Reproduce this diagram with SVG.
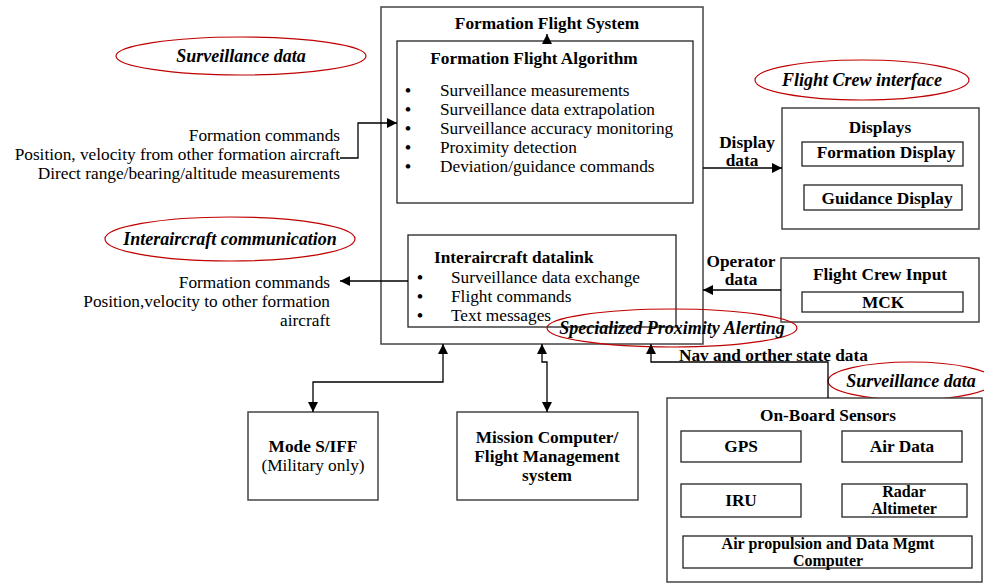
<svg xmlns="http://www.w3.org/2000/svg" width="984" height="583" viewBox="0 0 984 583">
<style>
text{font-family:"Liberation Serif","DejaVu Serif",serif;fill:#000}
.t{font-size:17.3px}
.b{font-size:17.3px;font-weight:bold}
.s{font-size:16px;font-weight:bold}
.e{font-size:18px;font-weight:bold;font-style:italic}
.u{font-size:17px;font-weight:bold}
.box{fill:#fff;stroke:#444;stroke-width:1.5}
.in{fill:#fff;stroke:#222;stroke-width:1.3}
.ell{fill:none;stroke:#c00000;stroke-width:1.2}
.c{fill:none;stroke:#000;stroke-width:1.3}
.m{text-anchor:middle}
.r{text-anchor:end}
</style>
<defs>
<marker id="ah" viewBox="0 0 10 10" refX="10" refY="5" markerWidth="10" markerHeight="10" markerUnits="userSpaceOnUse" orient="auto">
<path d="M0,0 L10,5 L0,10 z" fill="#000"/>
</marker>
<marker id="as" viewBox="0 0 10 10" refX="10" refY="5" markerWidth="10" markerHeight="10" markerUnits="userSpaceOnUse" orient="auto-start-reverse">
<path d="M0,0 L10,5 L0,10 z" fill="#000"/>
</marker>
</defs>

<g id="ffs">
<rect class="box" x="381" y="7" width="322" height="337"/>
<text class="b m" x="547" y="29">Formation Flight System</text>
</g>

<g id="algorithm">
<rect class="in" x="397" y="41" width="296" height="162"/>
<text class="b m" x="534" y="64">Formation Flight Algorithm</text>
<text class="u" x="405" y="96">•</text><text class="t" x="440" y="96">Surveillance measurements</text>
<text class="u" x="405" y="115">•</text><text class="t" x="440" y="115">Surveillance data extrapolation</text>
<text class="u" x="405" y="134">•</text><text class="t" x="440" y="134">Surveillance accuracy monitoring</text>
<text class="u" x="405" y="153">•</text><text class="t" x="440" y="153">Proximity detection</text>
<text class="u" x="405" y="172">•</text><text class="t" x="440" y="172">Deviation/guidance commands</text>
</g>

<g id="datalink">
<rect class="in" x="408" y="235" width="268" height="92"/>
<text class="b" x="434" y="263">Interaircraft datalink</text>
<text class="u" x="417" y="283">•</text><text class="t" x="451" y="283">Surveillance data exchange</text>
<text class="u" x="417" y="302">•</text><text class="t" x="451" y="302">Flight commands</text>
<text class="u" x="417" y="321">•</text><text class="t" x="451" y="321">Text messages</text>
</g>

<g id="surv-left">
<ellipse class="ell" cx="241" cy="56" rx="125" ry="19"/>
<text class="e m" x="241" y="62">Surveillance data</text>
</g>
<g id="surv-inputs">
<text class="t r" x="340" y="141">Formation commands</text>
<text class="t r" x="340" y="160">Position, velocity from other formation aircraft</text>
<text class="t r" x="340" y="179">Direct range/bearing/altitude measurements</text>
</g>

<g id="interaircraft">
<ellipse class="ell" cx="230" cy="239" rx="125" ry="22"/>
<text class="e m" x="230" y="245">Interaircraft communication</text>
</g>
<g id="ia-outputs">
<text class="t r" x="330" y="288">Formation commands</text>
<text class="t r" x="330" y="307">Position,velocity to other formation</text>
<text class="t r" x="330" y="326">aircraft</text>
</g>

<g id="crew-if">
<ellipse class="ell" cx="862" cy="80" rx="107" ry="20"/>
<text class="e m" x="862" y="86">Flight Crew interface</text>
</g>

<g id="displays">
<rect class="box" x="782" y="108" width="197" height="121"/>
<text class="b m" x="880" y="133">Displays</text>
<rect class="in" x="802" y="142" width="161" height="24"/>
<text class="b m" x="886" y="158">Formation Display</text>
<rect class="in" x="804" y="185" width="158" height="25"/>
<text class="b m" x="887" y="204">Guidance Display</text>
</g>

<g id="crew-input">
<rect class="box" x="781" y="258" width="198" height="64"/>
<text class="b m" x="880" y="280">Flight Crew Input</text>
<rect class="in" x="802" y="292" width="161" height="20"/>
<text class="b m" x="883" y="308">MCK</text>
</g>

<g id="spa">
<ellipse class="ell" cx="672" cy="328" rx="125" ry="19" fill="#fff"/>
<text class="e m" x="672" y="334">Specialized Proximity Alerting</text>
</g>

<g id="surv-right">
<ellipse class="ell" cx="911" cy="381" rx="83" ry="19"/>
<text class="e m" x="911" y="387">Surveillance data</text>
</g>

<g id="modes">
<rect class="box" x="248" y="412" width="130" height="88"/>
<text class="b m" x="313" y="452">Mode S/IFF</text>
<text class="t m" x="313" y="471">(Military only)</text>
</g>

<g id="mission">
<rect class="box" x="457" y="412" width="181" height="88"/>
<text class="b m" x="547" y="443">Mission Computer/</text>
<text class="b m" x="547" y="462">Flight Management</text>
<text class="b m" x="547" y="481">system</text>
</g>

<g id="sensors">
<rect class="box" x="667" y="398" width="315" height="184"/>
<text class="b m" x="828" y="421">On-Board Sensors</text>
<rect class="in" x="681" y="431" width="120" height="31"/>
<text class="b m" x="741" y="452">GPS</text>
<rect class="in" x="842" y="431" width="120" height="31"/>
<text class="b m" x="902" y="452">Air Data</text>
<rect class="in" x="681" y="484" width="120" height="33"/>
<text class="b m" x="741" y="506">IRU</text>
<rect class="in" x="842" y="484" width="125" height="33"/>
<text class="s m" x="904" y="497">Radar</text>
<text class="s m" x="904" y="514">Altimeter</text>
<rect class="in" x="683" y="536" width="289" height="32"/>
<text class="s m" x="828" y="549">Air propulsion and Data Mgmt</text>
<text class="s m" x="828" y="566">Computer</text>
</g>

<g id="connectors">
<path class="c" d="M547,41 V34" marker-end="url(#ah)"/>
<path class="c" d="M340,158 H358 V123 H397" marker-end="url(#ah)"/>
<path class="c" d="M408,281 H340" marker-end="url(#ah)"/>
<path class="c" d="M703,168 H782" marker-end="url(#ah)"/>
<path class="c" d="M781,290 H703" marker-end="url(#ah)"/>
<path class="c" d="M313,412 V382 H443 V344" marker-start="url(#as)" marker-end="url(#ah)"/>
<path class="c" d="M547,412 V362 H542 V344" marker-start="url(#as)" marker-end="url(#ah)"/>
<path class="c" d="M828,398 V362 H651 V344" marker-end="url(#ah)"/>
</g>

<g id="labels">
<text class="b m" x="747" y="148">Display</text>
<text class="b m" x="742" y="166">data</text>
<text class="b m" x="741" y="267">Operator</text>
<text class="b m" x="741" y="285">data</text>
<text class="b" x="679" y="361">Nav and orther state data</text>
</g>
</svg>
